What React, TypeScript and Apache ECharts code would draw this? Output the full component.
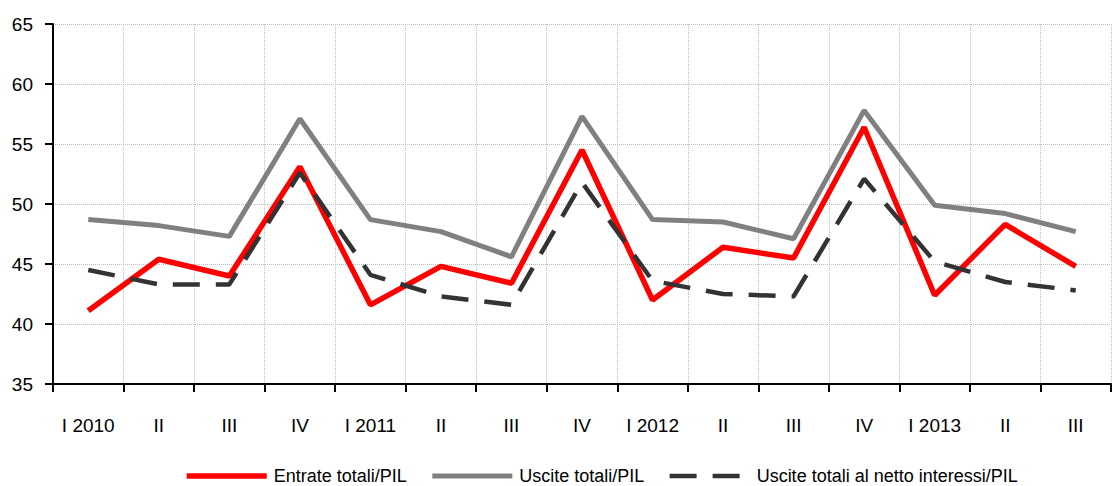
import React, { useEffect, useRef } from "react";
import * as echarts from "echarts";

const categories = ["I 2010", "II", "III", "IV", "I 2011", "II", "III", "IV", "I 2012", "II", "III", "IV", "I 2013", "II", "III"];
const entrate = [41.1, 45.4, 44.0, 53.1, 41.6, 44.8, 43.4, 54.5, 42.0, 46.4, 45.5, 56.4, 42.4, 48.3, 44.8];
const uscite = [48.7, 48.2, 47.3, 57.1, 48.7, 47.7, 45.6, 57.3, 48.7, 48.5, 47.1, 57.8, 49.9, 49.2, 47.7];
const usciteNetto = [44.5, 43.3, 43.3, 52.6, 44.1, 42.3, 41.6, 51.8, 43.6, 42.5, 42.3, 52.1, 45.2, 43.5, 42.8];
const seriesNames = ["Entrate totali/PIL", "Uscite totali/PIL", "Uscite totali al netto interessi/PIL"];

const FONT = "'Liberation Sans', Arial, sans-serif";

export default function App() {
  const ref = useRef<HTMLDivElement>(null);
  useEffect(() => {
    if (!ref.current) return;
    const chart = echarts.init(ref.current, undefined, { renderer: "svg" });
    chart.setOption({
      animation: false,
      backgroundColor: "#ffffff",
      grid: { left: 53, right: 5, top: 24, bottom: 102, containLabel: false },
      legend: {
        top: 462,
        left: 179,
        itemWidth: 80,
        itemHeight: 14,
        itemGap: 23,
        itemStyle: { opacity: 0 },
        lineStyle: { width: "inherit" },
        textStyle: { fontFamily: FONT, fontSize: 18, color: "#000", padding: [0, 0, 0, 2] },
        data: seriesNames,
      },
      xAxis: {
        type: "category",
        data: categories,
        boundaryGap: true,
        axisLine: { lineStyle: { color: "#000", width: 2 } },
        axisTick: { show: true, length: 8, lineStyle: { color: "#000", width: 2 } },
        axisLabel: { fontFamily: FONT, fontSize: 19, color: "#000", margin: 32, interval: 0 },
        splitLine: { show: true, lineStyle: { color: "#bdbdbd", type: "dotted", width: 1 } },
      },
      yAxis: {
        type: "value",
        min: 35,
        max: 65,
        interval: 5,
        axisLine: { show: true, lineStyle: { color: "#000", width: 2 } },
        axisTick: { show: true, length: 8, lineStyle: { color: "#000", width: 2 } },
        axisLabel: { fontFamily: FONT, fontSize: 19, color: "#000", margin: 20 },
        splitLine: { show: true, lineStyle: { color: "#bdbdbd", type: "dotted", width: 1 } },
      },
      series: [
        {
          name: seriesNames[0],
          type: "line",
          data: entrate,
          symbol: "none",
          z: 4,
          lineStyle: { color: "#ff0000", width: 5.5 },
          itemStyle: { color: "#ff0000" },
        },
        {
          name: seriesNames[1],
          type: "line",
          data: uscite,
          symbol: "none",
          z: 3,
          lineStyle: { color: "#808080", width: 5 },
          itemStyle: { color: "#808080" },
        },
        {
          name: seriesNames[2],
          type: "line",
          data: usciteNetto,
          symbol: "none",
          z: 5,
          lineStyle: { color: "#333333", width: 4.5, type: [27, 16] },
          itemStyle: { color: "#333333" },
        },
      ],
    });
    return () => chart.dispose();
  }, []);
  return <div ref={ref} style={{ position: "absolute", left: 0, top: 0, width: 1116, height: 486 }} />;
}
